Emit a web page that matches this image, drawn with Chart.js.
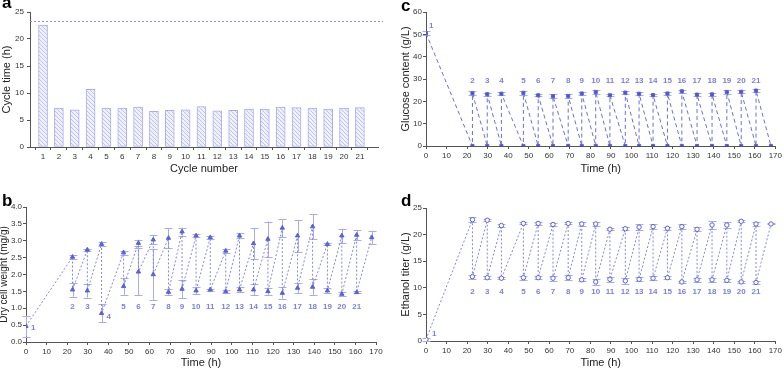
<!DOCTYPE html>
<html>
<head>
<meta charset="utf-8">
<script src="https://cdn.jsdelivr.net/npm/chart.js@4.4.0/dist/chart.umd.min.js"></script>
<style>
  body { margin: 0; background: #fff; width: 784px; height: 370px; position: relative; overflow: hidden; font-family: 'Liberation Sans', Arial, sans-serif; }
  .panel { position: absolute; }
  .tag { position: absolute; font-weight: bold; font-size: 17px; line-height: 17px; color: #000; }
</style>
</head>
<body>
<div class="panel" style="left:0;top:0;width:400px;height:180px"><canvas id="chartA" width="400" height="180"></canvas></div>
<div class="panel" style="left:0;top:180px;width:400px;height:190px"><canvas id="chartB" width="400" height="190"></canvas></div>
<div class="panel" style="left:400px;top:0;width:384px;height:180px"><canvas id="chartC" width="384" height="180"></canvas></div>
<div class="panel" style="left:400px;top:180px;width:384px;height:190px"><canvas id="chartD" width="384" height="190"></canvas></div>
<div class="tag" style="left:2px;top:-6px">a</div>
<div class="tag" style="left:2px;top:192px">b</div>
<div class="tag" style="left:401px;top:-3px">c</div>
<div class="tag" style="left:401px;top:192px">d</div>
<script>
// cycle numbers and durations (panel a)
const cycleNumbers = [1, 2, 3, 4, 5, 6, 7, 8, 9, 10, 11, 12, 13, 14, 15, 16, 17, 18, 19, 20, 21];
const cycleTime = [22.6, 7.2, 6.9, 10.7, 7.2, 7.2, 7.4, 6.6, 6.8, 6.9, 7.5, 6.7, 6.8, 7.0, 7.0, 7.4, 7.3, 7.2, 7.0, 7.2, 7.3];
const cycleTimeRef = 23.3;

// start / end time of each cycle (h)
const cycleStart = [0, 22.6, 29.8, 36.7, 47.4, 54.6, 61.8, 69.2, 75.8, 82.6, 89.5, 97.0, 103.7, 110.5, 117.5, 124.5, 131.9, 139.2, 146.4, 153.4, 160.6];
const cycleEnd = [22.6, 29.8, 36.7, 47.4, 54.6, 61.8, 69.2, 75.8, 82.6, 89.5, 97.0, 103.7, 110.5, 117.5, 124.5, 131.9, 139.2, 146.4, 153.4, 160.6, 167.9];

// dry cell weight (mg/g), panel b
const dcwStart = [0.47, 1.55, 1.52, 0.85, 1.65, 2.08, 2.0, 1.48, 1.57, 1.52, 1.55, 1.5, 1.55, 1.55, 1.5, 1.45, 1.6, 1.63, 1.52, 1.42, 1.47];
const dcwStartErr = [0.31, 0.21, 0.21, 0.27, 0.25, 0.7, 0.75, 0.1, 0.28, 0.1, 0.03, 0.05, 0.08, 0.17, 0.1, 0.17, 0.15, 0.25, 0.08, 0.05, 0.03];
const dcwEnd = [2.52, 2.73, 2.9, 2.65, 2.93, 3.03, 3.08, 3.27, 3.15, 3.1, 2.7, 3.15, 2.92, 3.05, 3.38, 3.15, 3.42, 2.9, 3.15, 3.17, 3.1];
const dcwEndErr = [0.05, 0.03, 0.07, 0.06, 0.1, 0.14, 0.29, 0.12, 0.04, 0.05, 0.06, 0.07, 0.46, 0.52, 0.26, 0.47, 0.36, 0.03, 0.21, 0.15, 0.2];

// glucose (g/L), panel c
const glcStart = [50.5, 23.6, 23.2, 23.4, 23.8, 22.7, 22.3, 22.4, 23.5, 24.2, 22.7, 23.9, 23.4, 22.8, 23.5, 24.5, 23.0, 23.1, 24.2, 24.3, 24.8];
const glcStartErr = [0.8, 0.9, 0.6, 0.7, 0.8, 0.5, 0.8, 0.7, 0.8, 0.8, 0.5, 0.7, 0.7, 0.5, 0.8, 0.7, 0.6, 0.7, 0.8, 0.7, 0.6];
const glcEnd = [0, 0, 0, 0, 0, 0, 0, 0, 0, 0, 0, 0, 0, 0, 0, 0, 0, 0, 0, 0, 0];
const glcEndErr = [0, 0, 0, 0, 0, 0, 0, 0, 0, 0, 0, 0, 0, 0, 0, 0, 0, 0, 0, 0, 0];

// ethanol (g/L), panel d
const etStart = [0.3, 12.1, 11.9, 11.8, 11.9, 11.9, 11.8, 11.9, 11.5, 11.1, 11.6, 11.3, 11.6, 11.8, 11.9, 11.1, 11.5, 11.5, 11.4, 11.1, 11.0];
const etStartErr = [0.3, 0.4, 0.3, 0.2, 0.4, 0.3, 0.5, 0.5, 0.3, 0.6, 0.5, 0.5, 0.4, 0.4, 0.3, 0.2, 0.4, 0.4, 0.3, 0.2, 0.2];
const etEnd = [22.8, 22.7, 21.7, 22.1, 22.1, 21.9, 22.1, 22.0, 22.0, 21.0, 21.1, 21.4, 21.5, 21.2, 21.5, 21.0, 21.8, 21.8, 22.5, 22.0, 22.0];
const etEndErr = [0.5, 0.2, 0.3, 0.2, 0.3, 0.2, 0.2, 0.4, 0.3, 0.2, 0.3, 0.5, 0.5, 0.3, 0.5, 0.4, 0.7, 0.5, 0.2, 0.3, 0.1];

const timeTicks = [0, 10, 20, 30, 40, 50, 60, 70, 80, 90, 100, 110, 120, 130, 140, 150, 160, 170];

const FONT = "'Liberation Sans', Arial, sans-serif";
const markColor = '#5b60dc';
const lineColor = '#8286e7';
const errColor = '#a7abf0';
const labelColor = '#7b80e2';

// sawtooth sequence: start of cycle -> end of cycle -> start of next cycle ...
function sawtooth(startVals, startErr, endVals, endErr) {
    const pts = [{ x: cycleStart[0], y: startVals[0] }];
    const errs = [startErr[0]];
    for (let i = 0; i < cycleEnd.length; i++) {
        pts.push({ x: cycleEnd[i], y: endVals[i] });
        errs.push(endErr[i]);
        if (i + 1 < cycleStart.length) {
            pts.push({ x: cycleStart[i + 1], y: startVals[i + 1] });
            errs.push(startErr[i + 1]);
        }
    }
    return { pts, errs };
}

const errorBarPlugin = {
    id: 'errorBars',
    beforeDatasetsDraw(chart, args, opts) {
        const { ctx, scales: { x, y } } = chart;
        ctx.save();
        ctx.strokeStyle = errColor;
        ctx.lineWidth = 1;
        chart.data.datasets.forEach(ds => {
            if (!ds.errors) return;
            ds.data.forEach((p, j) => {
                const e = ds.errors[j];
                if (!e) return;
                const px = Math.round(x.getPixelForValue(p.x)) + 0.5;
                const top = y.getPixelForValue(p.y + e);
                const bot = y.getPixelForValue(p.y - e);
                const w = opts.cap;
                ctx.beginPath();
                ctx.moveTo(px, top); ctx.lineTo(px, bot);
                ctx.moveTo(px - w, Math.round(top) + 0.5); ctx.lineTo(px + w, Math.round(top) + 0.5);
                ctx.moveTo(px - w, Math.round(bot) + 0.5); ctx.lineTo(px + w, Math.round(bot) + 0.5);
                ctx.stroke();
            });
        });
        ctx.restore();
    }
};

const cycleLabelPlugin = {
    id: 'cycleLabels',
    afterDatasetsDraw(chart, args, opts) {
        const { ctx, scales: { x, y } } = chart;
        ctx.save();
        ctx.font = 'bold 8px ' + FONT;
        ctx.fillStyle = labelColor;
        ctx.textBaseline = 'middle';
        cycleNumbers.forEach((n, i) => {
            let px = x.getPixelForValue(cycleStart[i]);
            let py;
            const near = opts.near[n];
            if (near) {
                py = y.getPixelForValue(opts.values[i]) + near[1];
                px += near[0];
                ctx.textAlign = 'left';
            } else {
                py = y.getPixelForValue(opts.level);
                ctx.textAlign = 'center';
            }
            ctx.fillText(String(n), px, py);
        });
        ctx.restore();
    }
};

const refLinePlugin = {
    id: 'refLine',
    afterDatasetsDraw(chart) {
        const { ctx, chartArea, scales: { y } } = chart;
        const py = Math.round(y.getPixelForValue(cycleTimeRef)) + 0.5;
        ctx.save();
        ctx.strokeStyle = '#8b8fe8';
        ctx.lineWidth = 1;
        ctx.setLineDash([2, 2]);
        ctx.beginPath();
        ctx.moveTo(chartArea.left, py);
        ctx.lineTo(chartArea.right + 5, py);
        ctx.stroke();
        ctx.restore();
    }
};

function axis(extra) {
    const base = {
        border: { color: '#555', width: 1 },
        grid: { drawOnChartArea: false, drawTicks: true, tickLength: 3, tickColor: '#555' },
        ticks: { color: '#333', font: { size: 8, family: FONT }, padding: 2, maxRotation: 0, autoSkip: false },
        title: { display: true, color: '#222', font: { size: 11, family: FONT }, padding: { top: 0, bottom: 0 } }
    };
    return Object.assign(base, extra);
}

function hatchPattern() {
    const c = document.createElement('canvas');
    const s = 4;
    c.width = s; c.height = s;
    const g = c.getContext('2d');
    g.fillStyle = '#eff0fc';
    g.fillRect(0, 0, s, s);
    g.strokeStyle = '#b4b8ee';
    g.lineWidth = 0.8;
    [-s, 0, s].forEach(k => {
        g.beginPath();
        g.moveTo(k, 0);
        g.lineTo(k + s, s);
        g.stroke();
    });
    return g.createPattern(c, 'repeat');
}

// ---- panel a ----
new Chart(document.getElementById('chartA'), {
    type: 'bar',
    data: {
        datasets: [{
            data: cycleNumbers.map((n, i) => ({ x: n, y: cycleTime[i] })),
            backgroundColor: hatchPattern(),
            borderColor: '#a9aeea',
            borderWidth: 1,
            borderSkipped: false,
            barThickness: 9
        }]
    },
    options: {
        responsive: false,
        animation: false,
        layout: { padding: { left: 0, top: 12, right: 22, bottom: 0 } },
        plugins: { legend: { display: false }, tooltip: { enabled: false } },
        scales: {
            x: axis({
                type: 'linear', min: 0.7, max: 21.62,
                afterBuildTicks: s => { s.ticks = cycleNumbers.map(v => ({ value: v })); },
                afterFit: s => { s.height = 33; },
                title: { display: true, text: 'Cycle number', color: '#222', font: { size: 11, family: FONT }, padding: { top: 0, bottom: 4 } }
            }),
            y: axis({
                min: 0, max: 25,
                ticks: { stepSize: 5, color: '#333', font: { size: 8, family: FONT }, padding: 3 },
                afterFit: s => { s.width = 30; },
                title: { display: true, text: 'Cycle time (h)', color: '#222', font: { size: 11, family: FONT }, padding: { top: 0, bottom: 0 } }
            })
        }
    },
    plugins: [refLinePlugin]
});

// ---- time-course panels ----
function timeChart(id, seq, opt) {
    return new Chart(document.getElementById(id), {
        type: 'scatter',
        data: {
            datasets: [{
                data: seq.pts,
                errors: seq.errs,
                showLine: true,
                borderColor: opt.lineColor,
                borderWidth: 1,
                borderDash: opt.dash,
                pointStyle: opt.pointStyle,
                pointRadius: opt.radius,
                pointBackgroundColor: opt.pointFill,
                pointBorderColor: markColor,
                pointBorderWidth: 1
            }]
        },
        options: {
            responsive: false,
            animation: false,
            layout: { padding: { left: 0, top: opt.padTop, right: opt.padRight, bottom: 0 } },
            plugins: {
                legend: { display: false },
                tooltip: { enabled: false },
                errorBars: { cap: opt.cap },
                cycleLabels: { level: opt.level, near: opt.near, values: opt.startVals }
            },
            scales: {
                x: axis({
                    type: 'linear', min: 0, max: 170,
                    afterBuildTicks: s => { s.ticks = timeTicks.map(v => ({ value: v })); },
                    afterFit: s => { s.height = opt.xHeight; },
                    title: { display: true, text: 'Time (h)', color: '#222', font: { size: 11, family: FONT }, padding: { top: 0, bottom: opt.xTitlePad } }
                }),
                y: axis({
                    min: opt.yMin, max: opt.yMax,
                    ticks: { stepSize: opt.yStep, color: '#333', font: { size: 8, family: FONT }, padding: 1, callback: opt.yFmt },
                    afterFit: s => { s.width = 26; },
                    title: { display: true, text: opt.yTitle, color: '#222', font: { size: opt.yTitleSize, family: FONT, lineHeight: 1 }, padding: { top: opt.yTitlePad, bottom: 0 } }
                })
            }
        },
        plugins: [errorBarPlugin, cycleLabelPlugin]
    });
}

timeChart('chartB', sawtooth(dcwStart, dcwStartErr, dcwEnd, dcwEndErr), {
    lineColor: lineColor, dash: [2, 2], pointStyle: 'triangle', radius: 2.5, pointFill: markColor,
    cap: 4, level: 1.03, near: { 1: [5, 2], 4: [5, 3] }, startVals: dcwStart,
    padTop: 27, padRight: 24, xHeight: 28, xTitlePad: 0,
    yMin: 0, yMax: 4, yStep: 0.5, yFmt: v => v.toFixed(1), yTitle: 'Dry cell weight (mg/g)',
    yTitleSize: 10, yTitlePad: -1
});

timeChart('chartC', sawtooth(glcStart, glcStartErr, glcEnd, glcEndErr), {
    lineColor: '#6a6ee2', dash: [4, 3], pointStyle: 'rect', radius: 2.2, pointFill: '#4c51d8',
    cap: 4, level: 29.3, near: { 1: [3, -7] }, startVals: glcStart,
    padTop: 12, padRight: 8, xHeight: 34, xTitlePad: 4,
    yMin: 0, yMax: 60, yStep: 10, yFmt: v => v, yTitle: 'Glucose content (g/L)',
    yTitleSize: 11, yTitlePad: 0.5
});

timeChart('chartD', sawtooth(etStart, etStartErr, etEnd, etEndErr), {
    lineColor: lineColor, dash: [2, 2], pointStyle: 'circle', radius: 2.2, pointFill: '#ffffff',
    cap: 4, level: 9.25, near: { 1: [6, -6] }, startVals: etStart,
    padTop: 28, padRight: 8, xHeight: 29, xTitlePad: 0,
    yMin: 0, yMax: 25, yStep: 5, yFmt: v => v, yTitle: 'Ethanol titer (g/L)',
    yTitleSize: 11, yTitlePad: 0.5
});
</script>
</body>
</html>
